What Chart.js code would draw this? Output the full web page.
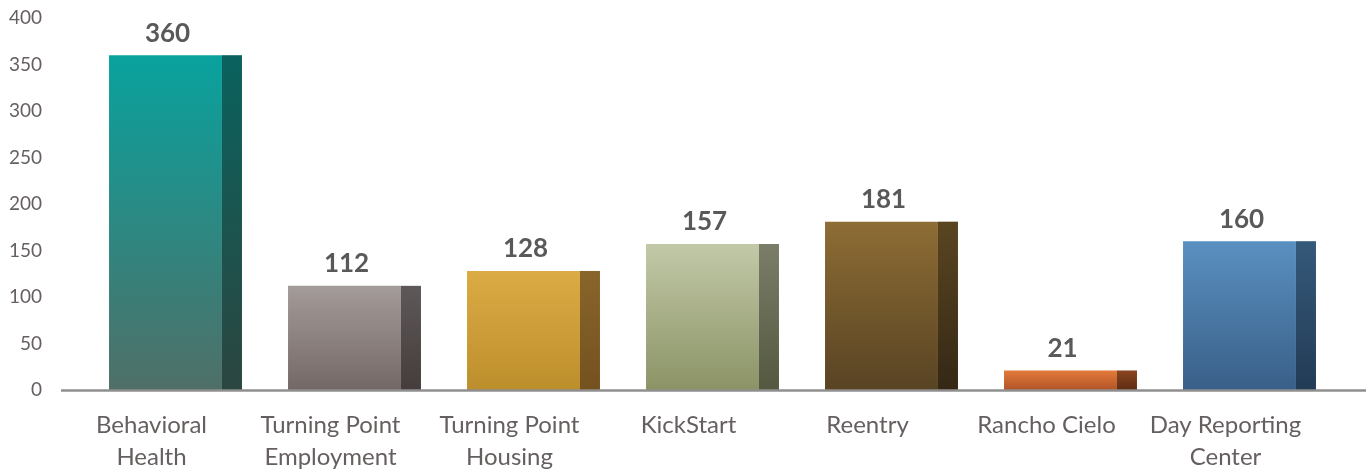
<!DOCTYPE html>
<html>
<head>
<meta charset="utf-8">
<script src="https://cdn.jsdelivr.net/npm/chart.js@4"></script>
<style>
  html, body { margin: 0; padding: 0; background: #ffffff; }
  #wrap { width: 1372px; height: 471px; position: relative; }
</style>
</head>
<body>
<div id="wrap"><canvas id="chart" width="1372" height="471"></canvas></div>
<script>
// Program names (multi-line where the label wraps)
const categories = [
  ['Behavioral', 'Health'],
  ['Turning Point', 'Employment'],
  ['Turning Point', 'Housing'],
  'KickStart',
  'Reentry',
  'Rancho Cielo',
  ['Day Reporting', 'Center']
];

// Participant counts per program
const participants = [360, 112, 128, 157, 181, 21, 160];

// Value axis
const yMin = 0;
const yMax = 400;
const yStep = 50;

// Column colours: front face [top, bottom], side face [top, bottom]
const frontColors = [
  ['#09a29e', '#4f6f67'],
  ['#a49c9a', '#746866'],
  ['#dbab45', '#bd8f2c'],
  ['#c2c9a8', '#8b9366'],
  ['#8e6d35', '#584323'],
  ['#e27a39', '#b25427'],
  ['#5a90c0', '#395f88']
];
const sideColors = [
  ['#0a625e', '#2c4640'],
  ['#5f5858', '#443d3c'],
  ['#87652a', '#74521f'],
  ['#7b7d69', '#53583f'],
  ['#5a4521', '#342815'],
  ['#8a4521', '#5e2d12'],
  ['#35597a', '#233b55']
];

const FONT = 'Lato, "Open Sans", sans-serif';
const TEXT = '#665f5f';
const SHIFT = 14;      // columns sit slightly right of the category centre (3-D depth)
const SIDE = 20;       // width of the shaded side face

function vGradient(ctx, top, bottom, c0, c1) {
  if (!isFinite(top) || !isFinite(bottom) || top === bottom) return c0;
  const g = ctx.createLinearGradient(0, top, 0, bottom);
  g.addColorStop(0, c0);
  g.addColorStop(1, c1);
  return g;
}

const columnPlugin = {
  id: 'columns3d',
  beforeDatasetsDraw(chart) {
    chart.ctx.save();
    chart.ctx.translate(SHIFT, 0);
  },
  afterDatasetsDraw(chart) {
    const ctx = chart.ctx;
    const meta = chart.getDatasetMeta(0);
    meta.data.forEach((bar, i) => {
      const { x, y, base, width } = bar.getProps(['x', 'y', 'base', 'width'], true);
      const right = x + width / 2;
      ctx.fillStyle = vGradient(ctx, y, base, sideColors[i][0], sideColors[i][1]);
      ctx.fillRect(right, y, SIDE, base - y);
    });
    ctx.restore();

    // baseline of the category axis, running under the floor depth
    const yScale = chart.scales.y;
    const y0 = yScale.getPixelForValue(0);
    ctx.save();
    ctx.strokeStyle = '#8f8f8f';
    ctx.lineWidth = 2.5;
    ctx.beginPath();
    ctx.moveTo(chart.chartArea.left - 1, y0 + 0.5);
    ctx.lineTo(chart.width - 6, y0 + 0.5);
    ctx.stroke();

    // value labels above each column
    ctx.fillStyle = '#595959';
    ctx.font = 'bold 26px ' + FONT;
    ctx.textAlign = 'center';
    ctx.textBaseline = 'middle';
    meta.data.forEach((bar, i) => {
      const { x, y } = bar.getProps(['x', 'y'], true);
      ctx.fillText(String(participants[i]), x + SHIFT + 2, y - 22);
    });
    ctx.restore();
  }
};

const chart = new Chart(document.getElementById('chart'), {
  type: 'bar',
  data: {
    labels: categories,
    datasets: [{
      data: participants,
      barPercentage: 0.631,
      categoryPercentage: 1,
      borderWidth: 0,
      backgroundColor: (c) => {
        const i = c.dataIndex === undefined ? 0 : c.dataIndex;
        const ys = c.chart.scales && c.chart.scales.y;
        if (!ys) return frontColors[i][0];
        const top = ys.getPixelForValue(participants[i]);
        const bottom = ys.getPixelForValue(0);
        return vGradient(c.chart.ctx, top, bottom, frontColors[i][0], frontColors[i][1]);
      }
    }]
  },
  options: {
    responsive: false,
    animation: false,
    layout: { padding: { top: 18, right: 57, bottom: 0, left: 0 } },
    plugins: {
      legend: { display: false },
      tooltip: { enabled: false }
    },
    scales: {
      x: {
        grid: { display: false, drawTicks: false },
        border: { display: false },
        ticks: {
          color: TEXT,
          font: { family: FONT, size: 24, lineHeight: 1.33 },
          padding: 19,
          maxRotation: 0,
          autoSkip: false
        },
        afterFit: (s) => { s.height = 81; s.paddingLeft = 0; s.paddingRight = 0; }
      },
      y: {
        min: yMin,
        max: yMax,
        grid: { display: false, drawTicks: false },
        border: { display: false },
        ticks: {
          stepSize: yStep,
          color: TEXT,
          font: { family: FONT, size: 19 },
          padding: 20
        },
        afterFit: (s) => { s.width = 62; s.paddingTop = 0; s.paddingBottom = 0; }
      }
    }
  },
  plugins: [columnPlugin]
});
chart.update();
</script>
</body>
</html>
